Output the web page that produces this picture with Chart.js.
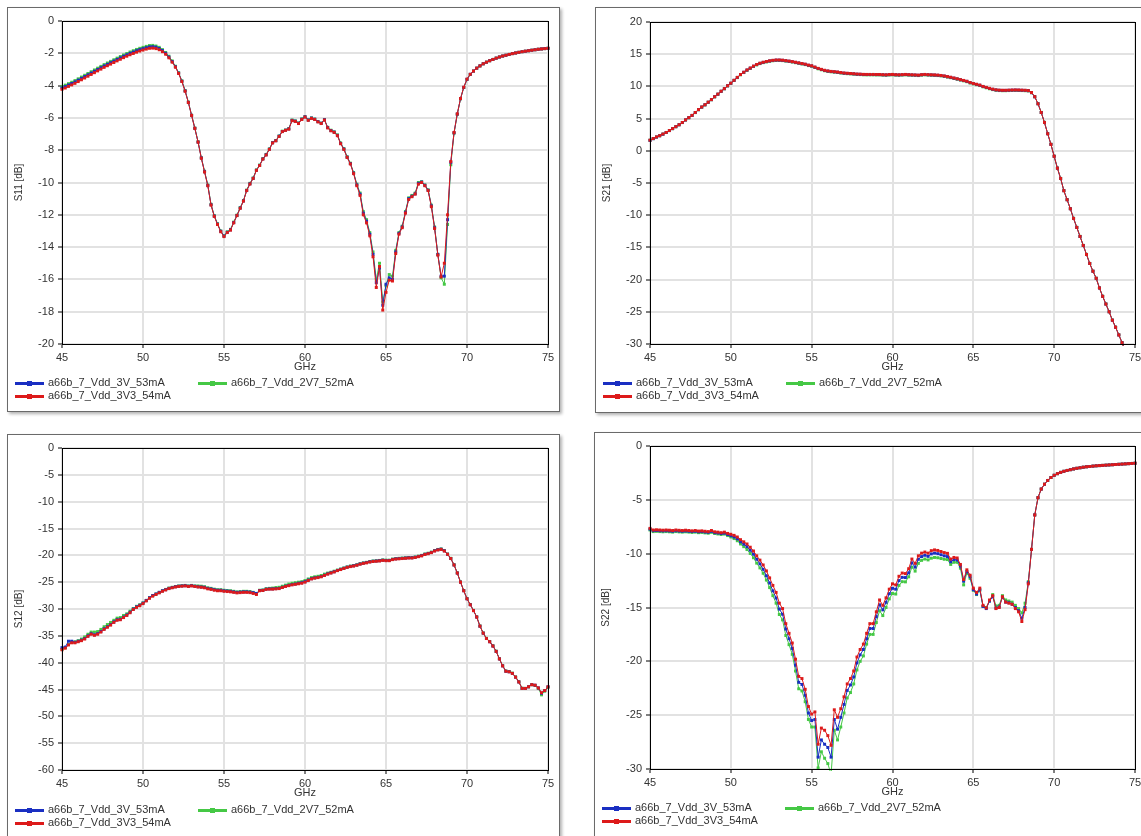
<!DOCTYPE html>
<html>
<head>
<meta charset="utf-8">
<script src="https://cdn.jsdelivr.net/npm/chart.js@4.4.1/dist/chart.umd.min.js"></script>
<style>
  body { margin: 0; background: #fff; width: 1141px; height: 836px; overflow: hidden; position: relative; font-family: "Liberation Sans", Arial, sans-serif; }
  .frame { position: absolute; box-sizing: border-box; border: 1px solid #6a6a6a; box-shadow: 2px 2px 3px rgba(0,0,0,0.3); background: #fff; }
  .frame canvas { position: absolute; left: 0; top: 0; }
  .leg { position: absolute; font-size: 11px; line-height: 12px; color: #333; white-space: nowrap; }
  .leg i { display: inline-block; position: relative; vertical-align: middle; width: 29px; height: 3px; margin-right: 4px; }
  .leg i b { position: absolute; left: 12px; top: -1px; width: 5px; height: 5px; }
</style>
</head>
<body>
<div class="frame" style="left:7px;top:7px;width:553px;height:405px"><canvas id="cS11"></canvas></div>
<div class="frame" style="left:595px;top:7px;width:560px;height:406px"><canvas id="cS21"></canvas></div>
<div class="frame" style="left:7px;top:434px;width:553px;height:410px"><canvas id="cS12"></canvas></div>
<div class="frame" style="left:594px;top:432px;width:560px;height:410px"><canvas id="cS22"></canvas></div>
<script>
// sweep points, GHz
const freqGHz = [
  45, 45.2, 45.4, 45.6, 45.8, 46, 46.2, 46.4, 46.6, 46.8,
  47, 47.2, 47.4, 47.6, 47.8, 48, 48.2, 48.4, 48.6, 48.8,
  49, 49.2, 49.4, 49.6, 49.8, 50, 50.2, 50.4, 50.6, 50.8,
  51, 51.2, 51.4, 51.6, 51.8, 52, 52.2, 52.4, 52.6, 52.8,
  53, 53.2, 53.4, 53.6, 53.8, 54, 54.2, 54.4, 54.6, 54.8,
  55, 55.2, 55.4, 55.6, 55.8, 56, 56.2, 56.4, 56.6, 56.8,
  57, 57.2, 57.4, 57.6, 57.8, 58, 58.2, 58.4, 58.6, 58.8,
  59, 59.2, 59.4, 59.6, 59.8, 60, 60.2, 60.4, 60.6, 60.8,
  61, 61.2, 61.4, 61.6, 61.8, 62, 62.2, 62.4, 62.6, 62.8,
  63, 63.2, 63.4, 63.6, 63.8, 64, 64.2, 64.4, 64.6, 64.8,
  65, 65.2, 65.4, 65.6, 65.8, 66, 66.2, 66.4, 66.6, 66.8,
  67, 67.2, 67.4, 67.6, 67.8, 68, 68.2, 68.4, 68.6, 68.8,
  69, 69.2, 69.4, 69.6, 69.8, 70, 70.2, 70.4, 70.6, 70.8,
  71, 71.2, 71.4, 71.6, 71.8, 72, 72.2, 72.4, 72.6, 72.8,
  73, 73.2, 73.4, 73.6, 73.8, 74, 74.2, 74.4, 74.6, 74.8,
  75
];

const seriesNames = ['a66b_7_Vdd_3V_53mA', 'a66b_7_Vdd_3V3_54mA', 'a66b_7_Vdd_2V7_52mA'];
const seriesColors = ['#1a2fc2', '#dd1a1a', '#45c845'];

// S11 [dB]
const s11_3V = [
  -4.14,-4.06,-3.96,-3.87,-3.77,-3.66,-3.55,-3.44,-3.33,-3.22,
  -3.11,-3.00,-2.89,-2.78,-2.68,-2.58,-2.48,-2.38,-2.28,-2.18,
  -2.09,-2.00,-1.92,-1.84,-1.77,-1.71,-1.65,-1.60,-1.59,-1.62,
  -1.70,-1.83,-2.00,-2.23,-2.51,-2.83,-3.23,-3.73,-4.33,-5.04,
  -5.84,-6.64,-7.50,-8.48,-9.33,-10.18,-11.38,-12.08,-12.58,-13.02,
  -13.32,-13.08,-12.93,-12.48,-12.04,-11.58,-11.14,-10.49,-10.08,-9.74,
  -9.24,-8.94,-8.54,-8.28,-7.94,-7.54,-7.41,-7.13,-6.84,-6.76,
  -6.68,-6.15,-6.20,-6.33,-6.08,-5.93,-6.13,-6.01,-6.08,-6.23,
  -6.33,-6.11,-6.60,-6.78,-6.88,-7.08,-7.58,-7.93,-8.43,-8.83,
  -9.42,-10.15,-10.72,-11.90,-12.40,-13.20,-14.45,-16.20,-15.30,-17.60,
  -16.30,-15.90,-16.00,-14.30,-13.15,-12.75,-11.85,-11.00,-10.85,-10.70,
  -10.05,-9.97,-10.17,-10.48,-11.45,-12.80,-14.45,-15.80,-15.80,-12.30,
  -8.75,-6.92,-5.76,-4.81,-4.11,-3.61,-3.30,-3.10,-2.92,-2.78,
  -2.65,-2.55,-2.46,-2.38,-2.30,-2.23,-2.17,-2.12,-2.07,-2.02,
  -1.98,-1.94,-1.90,-1.87,-1.84,-1.81,-1.78,-1.75,-1.73,-1.71,
  -1.69
];
const s11_3V3 = [
  -4.23,-4.15,-4.05,-3.96,-3.86,-3.75,-3.64,-3.53,-3.42,-3.31,
  -3.20,-3.09,-2.98,-2.87,-2.77,-2.67,-2.57,-2.47,-2.37,-2.27,
  -2.18,-2.09,-2.01,-1.93,-1.86,-1.80,-1.74,-1.69,-1.68,-1.71,
  -1.78,-1.90,-2.06,-2.28,-2.55,-2.86,-3.25,-3.75,-4.35,-5.05,
  -5.85,-6.65,-7.50,-8.50,-9.35,-10.20,-11.40,-12.10,-12.60,-13.05,
  -13.35,-13.10,-12.95,-12.50,-12.05,-11.60,-11.15,-10.50,-10.10,-9.75,
  -9.25,-8.95,-8.55,-8.30,-7.95,-7.55,-7.42,-7.15,-6.85,-6.77,
  -6.70,-6.17,-6.22,-6.35,-6.10,-5.95,-6.15,-6.03,-6.10,-6.25,
  -6.35,-6.13,-6.62,-6.80,-6.90,-7.10,-7.60,-7.95,-8.45,-8.85,
  -9.45,-10.20,-10.80,-12.00,-12.50,-13.30,-14.60,-16.50,-15.20,-17.90,
  -16.80,-16.05,-16.10,-14.40,-13.20,-12.80,-11.90,-11.05,-10.88,-10.72,
  -10.10,-10.00,-10.20,-10.50,-11.50,-12.85,-14.50,-15.85,-15.00,-12.00,
  -8.70,-6.90,-5.75,-4.80,-4.10,-3.60,-3.30,-3.10,-2.92,-2.78,
  -2.65,-2.55,-2.46,-2.38,-2.30,-2.23,-2.17,-2.12,-2.07,-2.02,
  -1.98,-1.94,-1.90,-1.87,-1.84,-1.81,-1.78,-1.75,-1.73,-1.71,
  -1.69
];
const s11_2V7 = [
  -4.05,-3.97,-3.88,-3.79,-3.69,-3.58,-3.47,-3.36,-3.25,-3.14,
  -3.03,-2.92,-2.81,-2.70,-2.60,-2.50,-2.40,-2.30,-2.20,-2.10,
  -2.01,-1.92,-1.84,-1.76,-1.69,-1.63,-1.57,-1.52,-1.51,-1.55,
  -1.63,-1.77,-1.95,-2.18,-2.47,-2.80,-3.20,-3.70,-4.30,-5.02,
  -5.83,-6.63,-7.48,-8.46,-9.30,-10.15,-11.35,-12.05,-12.55,-13.00,
  -13.30,-13.05,-12.90,-12.45,-12.02,-11.55,-11.12,-10.47,-10.05,-9.72,
  -9.22,-8.92,-8.52,-8.26,-7.92,-7.52,-7.40,-7.12,-6.82,-6.75,
  -6.66,-6.13,-6.18,-6.31,-6.06,-5.92,-6.12,-6.00,-6.07,-6.22,
  -6.32,-6.10,-6.58,-6.76,-6.86,-7.05,-7.55,-7.90,-8.40,-8.80,
  -9.38,-10.10,-10.65,-11.80,-12.30,-13.10,-14.30,-16.00,-15.00,-17.40,
  -16.40,-15.70,-15.80,-14.20,-13.10,-12.70,-11.80,-10.95,-10.80,-10.65,
  -10.00,-9.95,-10.15,-10.45,-11.40,-12.75,-14.45,-15.90,-16.30,-12.60,
  -8.90,-6.95,-5.78,-4.82,-4.12,-3.62,-3.31,-3.10,-2.92,-2.78,
  -2.65,-2.55,-2.46,-2.38,-2.30,-2.23,-2.17,-2.12,-2.07,-2.02,
  -1.98,-1.94,-1.90,-1.87,-1.84,-1.81,-1.78,-1.75,-1.73,-1.71,
  -1.69
];

// S21 [dB]
const s21_3V = [
  1.62,1.88,2.13,2.33,2.58,2.84,3.14,3.44,3.74,4.04,
  4.39,4.79,5.14,5.49,5.94,6.39,6.79,7.14,7.54,7.94,
  8.39,8.79,9.24,9.64,10.09,10.49,10.94,11.39,11.84,12.19,
  12.54,12.84,13.13,13.38,13.58,13.73,13.85,13.95,14.03,14.08,
  14.08,14.05,13.98,13.91,13.83,13.73,13.63,13.53,13.43,13.28,
  13.18,12.98,12.78,12.63,12.48,12.38,12.31,12.26,12.21,12.13,
  12.06,12.02,11.99,11.95,11.90,11.88,11.85,11.84,11.84,11.84,
  11.83,11.83,11.80,11.78,11.82,11.84,11.80,11.78,11.81,11.84,
  11.80,11.78,11.76,11.73,11.80,11.84,11.80,11.78,11.76,11.73,
  11.68,11.60,11.50,11.40,11.28,11.16,11.03,10.91,10.78,10.58,
  10.43,10.31,10.18,9.98,9.83,9.68,9.55,9.45,9.40,9.38,
  9.38,9.40,9.42,9.43,9.42,9.40,9.38,9.33,9.03,8.38,
  7.30,5.95,4.40,2.65,1.00,-0.85,-2.70,-4.30,-6.20,-7.60,
  -9.00,-10.50,-11.90,-13.30,-14.70,-16.10,-17.50,-18.70,-19.80,-21.30,
  -22.60,-23.80,-25.00,-26.30,-27.40,-28.60,-29.80,-31.20,-32.50,-33.80,
  -35.00
];
const s21_3V3 = [
  1.65,1.90,2.15,2.35,2.60,2.85,3.15,3.45,3.75,4.05,
  4.40,4.80,5.15,5.50,5.95,6.40,6.80,7.15,7.55,7.95,
  8.40,8.80,9.25,9.65,10.10,10.50,10.95,11.40,11.85,12.20,
  12.55,12.85,13.15,13.40,13.60,13.75,13.87,13.97,14.05,14.10,
  14.10,14.07,14.00,13.93,13.85,13.75,13.65,13.55,13.45,13.30,
  13.20,13.00,12.80,12.65,12.50,12.40,12.33,12.28,12.23,12.15,
  12.08,12.04,12.01,11.97,11.92,11.90,11.87,11.86,11.86,11.86,
  11.85,11.85,11.82,11.80,11.84,11.86,11.82,11.80,11.83,11.86,
  11.82,11.80,11.78,11.75,11.82,11.86,11.82,11.80,11.78,11.75,
  11.70,11.62,11.52,11.42,11.30,11.18,11.05,10.93,10.80,10.60,
  10.45,10.33,10.20,10.00,9.85,9.70,9.57,9.47,9.42,9.40,
  9.40,9.42,9.44,9.45,9.44,9.42,9.40,9.35,9.05,8.40,
  7.30,5.95,4.40,2.65,1.00,-0.85,-2.70,-4.30,-6.20,-7.60,
  -9.00,-10.50,-11.90,-13.30,-14.70,-16.10,-17.50,-18.70,-19.80,-21.30,
  -22.60,-23.80,-25.00,-26.30,-27.40,-28.60,-29.80,-31.20,-32.50,-33.80,
  -35.00
];
const s21_2V7 = [
  1.64,1.89,2.14,2.34,2.59,2.84,3.14,3.44,3.74,4.04,
  4.38,4.78,5.13,5.48,5.93,6.38,6.78,7.13,7.53,7.93,
  8.38,8.78,9.23,9.63,10.08,10.47,10.92,11.36,11.80,12.15,
  12.49,12.79,13.09,13.34,13.54,13.69,13.80,13.90,13.98,14.03,
  14.03,14.00,13.93,13.86,13.78,13.68,13.58,13.48,13.38,13.23,
  13.13,12.93,12.73,12.58,12.43,12.33,12.26,12.21,12.16,12.08,
  12.01,11.97,11.94,11.90,11.85,11.83,11.80,11.79,11.79,11.79,
  11.78,11.78,11.75,11.73,11.77,11.79,11.75,11.73,11.76,11.79,
  11.75,11.73,11.71,11.68,11.75,11.79,11.75,11.73,11.71,11.68,
  11.63,11.55,11.45,11.35,11.23,11.11,10.98,10.86,10.73,10.53,
  10.38,10.26,10.13,9.93,9.78,9.63,9.50,9.40,9.35,9.33,
  9.33,9.35,9.37,9.38,9.37,9.35,9.33,9.30,9.02,8.40,
  7.32,5.97,4.42,2.67,1.02,-0.83,-2.68,-4.28,-6.18,-7.58,
  -8.98,-10.48,-11.88,-13.28,-14.68,-16.08,-17.48,-18.68,-19.78,-21.28,
  -22.58,-23.78,-24.98,-26.28,-27.38,-28.58,-29.78,-31.18,-32.48,-33.78,
  -34.98
];

// S12 [dB]
const s12_3V = [
  -37.2,-37.1,-36.0,-36.0,-36.2,-36.0,-35.8,-35.5,-35.0,-34.6,
  -34.8,-34.6,-34.2,-33.7,-33.3,-32.9,-32.4,-32.0,-31.9,-31.5,
  -31.1,-30.6,-30.0,-29.6,-29.3,-28.9,-28.4,-27.9,-27.5,-27.2,
  -26.9,-26.6,-26.4,-26.15,-26.0,-25.85,-25.75,-25.7,-25.65,-25.75,
  -25.65,-25.75,-25.85,-25.9,-25.95,-26.15,-26.25,-26.4,-26.5,-26.5,
  -26.6,-26.65,-26.7,-26.8,-26.9,-26.85,-26.8,-26.8,-26.85,-26.95,
  -27.1,-26.55,-26.5,-26.3,-26.25,-26.25,-26.2,-26.15,-25.95,-25.75,
  -25.6,-25.45,-25.35,-25.2,-25.1,-24.9,-24.6,-24.35,-24.2,-24.1,
  -23.95,-23.7,-23.45,-23.25,-23.05,-22.8,-22.6,-22.4,-22.2,-22.05,
  -21.95,-21.8,-21.6,-21.45,-21.35,-21.2,-21.1,-21.05,-21.0,-20.9,
  -20.95,-20.95,-20.75,-20.65,-20.6,-20.55,-20.5,-20.45,-20.45,-20.35,
  -20.2,-20.05,-19.8,-19.65,-19.45,-19.15,-18.95,-18.85,-19.15,-19.8,
  -20.6,-21.8,-23.3,-25.0,-26.6,-28.1,-29.2,-30.3,-31.5,-33.2,
  -34.5,-35.5,-36.1,-36.9,-37.9,-39.3,-40.6,-41.6,-41.7,-42.0,
  -42.7,-43.6,-44.8,-44.8,-44.5,-44.1,-44.2,-44.7,-45.7,-45.2,
  -44.5
];
const s12_3V3 = [
  -37.6,-37.3,-36.7,-36.3,-36.3,-36.1,-35.9,-35.6,-35.1,-34.7,
  -34.9,-34.7,-34.3,-33.8,-33.4,-33.0,-32.5,-32.1,-32.0,-31.6,
  -31.2,-30.7,-30.1,-29.7,-29.4,-29.0,-28.5,-28.0,-27.6,-27.3,
  -27.0,-26.7,-26.45,-26.2,-26.05,-25.9,-25.8,-25.75,-25.7,-25.8,
  -25.7,-25.8,-25.9,-25.95,-26.05,-26.25,-26.35,-26.5,-26.6,-26.6,
  -26.7,-26.75,-26.8,-26.9,-27.0,-26.95,-26.9,-26.9,-26.95,-27.1,
  -27.3,-26.6,-26.55,-26.35,-26.3,-26.3,-26.25,-26.2,-26.0,-25.8,
  -25.65,-25.5,-25.4,-25.3,-25.2,-25.0,-24.7,-24.4,-24.25,-24.15,
  -24.0,-23.75,-23.5,-23.3,-23.1,-22.85,-22.65,-22.45,-22.25,-22.1,
  -22.0,-21.85,-21.65,-21.5,-21.4,-21.25,-21.15,-21.1,-21.05,-20.95,
  -21.0,-21.0,-20.8,-20.7,-20.65,-20.6,-20.55,-20.5,-20.5,-20.4,
  -20.25,-20.1,-19.85,-19.7,-19.5,-19.2,-19.0,-18.9,-19.2,-19.8,
  -20.6,-21.8,-23.3,-25.0,-26.6,-28.1,-29.2,-30.3,-31.5,-33.2,
  -34.5,-35.5,-36.1,-36.9,-37.9,-39.3,-40.6,-41.6,-41.7,-42.0,
  -42.7,-43.6,-44.8,-44.8,-44.5,-44.1,-44.2,-44.7,-45.6,-45.2,
  -44.5
];
const s12_2V7 = [
  -37.5,-37.2,-36.6,-36.2,-36.1,-35.9,-35.6,-35.2,-34.7,-34.3,
  -34.3,-34.2,-33.8,-33.3,-32.9,-32.5,-32.1,-31.7,-31.6,-31.2,
  -30.9,-30.4,-29.9,-29.5,-29.2,-28.85,-28.4,-27.9,-27.5,-27.2,
  -26.9,-26.6,-26.35,-26.1,-25.95,-25.8,-25.7,-25.65,-25.6,-25.7,
  -25.6,-25.7,-25.7,-25.75,-25.85,-26.05,-26.15,-26.3,-26.4,-26.4,
  -26.5,-26.55,-26.6,-26.7,-26.8,-26.75,-26.7,-26.7,-26.75,-26.9,
  -27.1,-26.5,-26.45,-26.2,-26.15,-26.1,-26.0,-25.95,-25.75,-25.55,
  -25.35,-25.2,-25.1,-25.0,-24.9,-24.7,-24.4,-24.15,-24.0,-23.9,
  -23.75,-23.5,-23.3,-23.15,-22.95,-22.75,-22.55,-22.35,-22.15,-22.0,
  -21.9,-21.75,-21.55,-21.4,-21.3,-21.15,-21.05,-21.0,-20.95,-20.85,
  -20.9,-20.9,-20.7,-20.6,-20.55,-20.5,-20.45,-20.4,-20.4,-20.3,
  -20.15,-20.0,-19.75,-19.6,-19.4,-19.1,-18.9,-18.8,-19.1,-19.75,
  -20.55,-21.75,-23.25,-24.95,-26.55,-28.05,-29.15,-30.25,-31.45,-33.15,
  -34.45,-35.45,-36.05,-36.85,-37.85,-39.25,-40.55,-41.55,-41.65,-41.95,
  -42.65,-43.55,-44.75,-44.8,-44.5,-44.1,-44.25,-44.8,-46.0,-45.3,
  -44.6
];

// S22 [dB]
const s22_3V = [
  -7.72,-7.87,-7.85,-7.87,-7.89,-7.87,-7.89,-7.92,-7.87,-7.90,
  -7.92,-7.89,-7.92,-7.95,-7.92,-7.97,-7.95,-7.99,-8.02,-7.93,
  -8.05,-8.08,-8.13,-8.09,-8.22,-8.33,-8.45,-8.62,-8.90,-9.12,
  -9.35,-9.68,-10.05,-10.52,-10.95,-11.45,-12.05,-12.72,-13.45,-14.12,
  -15.15,-15.62,-17.00,-17.90,-18.80,-20.35,-21.95,-22.15,-23.15,-24.80,
  -25.50,-25.40,-28.90,-27.30,-27.70,-28.00,-28.90,-25.40,-26.30,-25.20,
  -24.00,-22.70,-22.20,-21.45,-20.15,-19.40,-18.90,-17.90,-16.95,-16.95,
  -15.85,-14.75,-15.22,-14.52,-13.72,-13.22,-13.30,-12.50,-12.20,-12.22,
  -11.78,-10.85,-11.25,-10.52,-10.27,-10.15,-10.25,-10.02,-9.95,-10.00,
  -10.10,-10.20,-10.27,-10.75,-10.55,-10.58,-11.15,-12.55,-11.65,-12.15,
  -13.35,-13.75,-13.35,-14.90,-15.10,-14.40,-14.00,-15.05,-14.95,-14.05,
  -14.50,-14.55,-14.70,-15.00,-15.30,-16.00,-15.00,-12.70,-9.60,-6.40,
  -4.80,-4.00,-3.55,-3.20,-2.93,-2.72,-2.57,-2.45,-2.35,-2.27,
  -2.20,-2.13,-2.07,-2.02,-1.97,-1.93,-1.90,-1.87,-1.84,-1.82,
  -1.80,-1.78,-1.76,-1.74,-1.72,-1.70,-1.68,-1.66,-1.64,-1.62,
  -1.60
];
const s22_3V3 = [
  -7.65,-7.80,-7.78,-7.80,-7.82,-7.80,-7.82,-7.85,-7.80,-7.83,
  -7.85,-7.82,-7.85,-7.88,-7.85,-7.90,-7.88,-7.92,-7.95,-7.85,
  -7.97,-8.00,-8.05,-8.00,-8.12,-8.20,-8.30,-8.45,-8.70,-8.90,
  -9.10,-9.40,-9.75,-10.20,-10.60,-11.05,-11.60,-12.25,-12.95,-13.60,
  -14.60,-15.10,-16.50,-17.40,-18.30,-19.80,-21.40,-21.60,-22.60,-24.20,
  -24.90,-24.70,-27.70,-26.20,-26.40,-26.90,-27.80,-24.50,-25.20,-24.40,
  -23.30,-22.10,-21.60,-20.90,-19.60,-18.90,-18.40,-17.40,-16.50,-16.50,
  -15.40,-14.30,-14.80,-14.10,-13.30,-12.80,-12.90,-12.10,-11.80,-11.85,
  -11.40,-10.50,-10.90,-10.20,-9.95,-9.85,-9.95,-9.72,-9.65,-9.70,
  -9.80,-9.90,-9.97,-10.50,-10.35,-10.40,-11.00,-12.40,-11.50,-12.00,
  -13.20,-13.60,-13.20,-14.80,-15.05,-14.30,-13.90,-15.10,-15.00,-14.00,
  -14.50,-14.60,-14.70,-15.10,-15.40,-16.30,-15.20,-12.80,-9.60,-6.40,
  -4.80,-4.00,-3.55,-3.20,-2.93,-2.72,-2.57,-2.45,-2.35,-2.27,
  -2.20,-2.13,-2.07,-2.02,-1.97,-1.93,-1.90,-1.87,-1.84,-1.82,
  -1.80,-1.78,-1.76,-1.74,-1.72,-1.70,-1.68,-1.66,-1.64,-1.62,
  -1.60
];
const s22_2V7 = [
  -7.80,-7.95,-7.93,-7.95,-7.97,-7.95,-7.97,-8.00,-7.95,-7.98,
  -8.00,-7.97,-8.00,-8.03,-8.00,-8.05,-8.03,-8.07,-8.10,-8.02,
  -8.13,-8.17,-8.22,-8.18,-8.32,-8.45,-8.60,-8.80,-9.10,-9.35,
  -9.62,-9.98,-10.38,-10.88,-11.32,-11.82,-12.45,-13.15,-13.90,-14.60,
  -15.65,-16.15,-17.60,-18.45,-19.35,-20.90,-22.55,-22.75,-23.75,-25.40,
  -26.10,-26.10,-29.90,-28.40,-29.00,-29.50,-30.50,-26.40,-27.30,-26.10,
  -24.80,-23.40,-22.90,-22.10,-20.80,-20.00,-19.50,-18.40,-17.50,-17.50,
  -16.40,-15.30,-15.75,-15.00,-14.20,-13.70,-13.75,-12.95,-12.60,-12.62,
  -12.15,-11.25,-11.62,-10.90,-10.62,-10.50,-10.58,-10.42,-10.35,-10.38,
  -10.45,-10.52,-10.55,-11.00,-10.80,-10.80,-11.35,-12.90,-11.80,-12.30,
  -13.40,-13.80,-13.40,-14.90,-15.00,-14.40,-13.80,-14.85,-14.80,-13.90,
  -14.30,-14.40,-14.50,-14.80,-15.10,-15.50,-14.60,-12.60,-9.60,-6.40,
  -4.80,-4.00,-3.55,-3.20,-2.93,-2.72,-2.57,-2.45,-2.35,-2.27,
  -2.20,-2.13,-2.07,-2.02,-1.97,-1.93,-1.90,-1.87,-1.84,-1.82,
  -1.80,-1.78,-1.76,-1.74,-1.72,-1.70,-1.68,-1.66,-1.64,-1.62,
  -1.60
];

// frame = [left, top, width, height], plot = [left, top, right, bottom] in page px
const panels = [
  { canvas: 'cS11', yTitle: 'S11 [dB]', yMin: -20, yMax: 0, yStep: 2, series: [s11_3V, s11_3V3, s11_2V7], frame: [7, 7, 553, 405], plot: [62, 21, 548, 344] },
  { canvas: 'cS21', yTitle: 'S21 [dB]', yMin: -30, yMax: 20, yStep: 5, series: [s21_3V, s21_3V3, s21_2V7], frame: [595, 7, 560, 406], plot: [650, 22, 1135, 344] },
  { canvas: 'cS12', yTitle: 'S12 [dB]', yMin: -60, yMax: 0, yStep: 5, series: [s12_3V, s12_3V3, s12_2V7], frame: [7, 434, 553, 410], plot: [62, 448, 548, 770] },
  { canvas: 'cS22', yTitle: 'S22 [dB]', yMin: -30, yMax: 0, yStep: 5, series: [s22_3V, s22_3V3, s22_2V7], frame: [594, 432, 560, 410], plot: [650, 446, 1135, 769] }
];

const tickFont = { family: '"Liberation Sans", Arial, sans-serif', size: 11 };
const textColor = '#333';

// full black box round the plot area
const plotBox = {
  id: 'plotBox',
  afterDraw(chart) {
    const { ctx, chartArea: a } = chart;
    ctx.save();
    ctx.strokeStyle = '#000';
    ctx.lineWidth = 1;
    ctx.strokeRect(Math.round(a.left) + 0.5, Math.round(a.top) + 0.5, Math.round(a.right - a.left), Math.round(a.bottom - a.top));
    ctx.restore();
  }
};

function makeChart(p) {
  const ox = p.frame[0] + 1, oy = p.frame[1] + 1;
  const cw = p.frame[2] - 2, ch = p.frame[3] - 2;
  const canvas = document.getElementById(p.canvas);
  canvas.width = cw;
  canvas.height = ch;
  const yAxisW = p.plot[0] - ox;
  const padTop = p.plot[1] - oy;
  const padRight = ox + cw - p.plot[2];
  const xAxisH = oy + ch - p.plot[3];

  // red on top, then blue, then green
  const datasets = [1, 0, 2].map((s, k) => ({
    label: seriesNames[s],
    data: freqGHz.map((f, i) => ({ x: f, y: p.series[s][i] })),
    borderColor: seriesColors[s],
    backgroundColor: seriesColors[s],
    borderWidth: 1,
    pointStyle: 'rect',
    pointRadius: 2.1,
    pointBorderWidth: 0,
    pointBackgroundColor: seriesColors[s],
    pointHoverRadius: 2.1,
    tension: 0,
    clip: 2,
    order: k
  }));

  new Chart(canvas, {
    type: 'line',
    data: { datasets },
    options: {
      responsive: false,
      animation: false,
      events: [],
      layout: { padding: { top: padTop, right: padRight, left: 0, bottom: 0 } },
      plugins: { legend: { display: false }, tooltip: { enabled: false } },
      scales: {
        x: {
          type: 'linear',
          min: 45,
          max: 75,
          ticks: { stepSize: 5, color: textColor, font: tickFont, padding: 3, maxRotation: 0 },
          grid: { color: '#e2e2e2', lineWidth: 2, tickLength: 4, tickColor: '#000', tickWidth: 1 },
          border: { display: true, color: '#000', width: 1 },
          title: { display: true, text: 'GHz', color: textColor, font: tickFont, padding: { top: 0, bottom: xAxisH - 23 - 6.6 } },
          afterFit(scale) { scale.height = xAxisH; }
        },
        y: {
          min: p.yMin,
          max: p.yMax,
          ticks: { stepSize: p.yStep, color: textColor, font: tickFont, padding: 4 },
          grid: { color: '#e2e2e2', lineWidth: 2, tickLength: 4, tickColor: '#000', tickWidth: 1 },
          border: { display: true, color: '#000', width: 1 },
          title: { display: true, text: p.yTitle, color: textColor, font: { family: tickFont.family, size: 10 }, padding: { top: 5, bottom: 0 } },
          afterFit(scale) { scale.width = yAxisW; }
        }
      }
    },
    plugins: [plotBox]
  });

  // legend: two rows, third entry in second column
  const slots = [[0, 8, 375], [1, 8, 388], [2, 191, 375]];
  slots.forEach(([s, dx, dy]) => {
    const el = document.createElement('div');
    el.className = 'leg';
    el.style.left = (p.frame[0] + dx) + 'px';
    el.style.top = (p.frame[1] + dy - 6) + 'px';
    el.innerHTML = '<i style="background:' + seriesColors[s] + '"><b style="background:' + seriesColors[s] + '"></b></i>' + seriesNames[s];
    document.body.appendChild(el);
  });
}

panels.forEach(makeChart);
</script>
</body>
</html>
